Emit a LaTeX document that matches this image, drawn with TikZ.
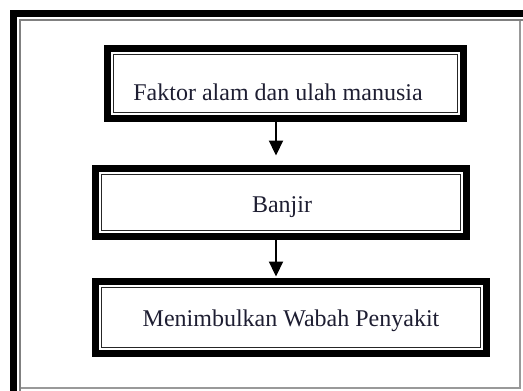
\documentclass[tikz,border=0pt]{standalone}
\usepackage{fontspec}
\setmainfont{Liberation Serif}
\usetikzlibrary{arrows.meta}
\definecolor{txtc}{RGB}{30,30,50}
\tikzset{
  boxnode/.style={draw=black, line width=7pt, fill=white, inner sep=0pt, outer sep=0pt},
  innerline/.style={draw=black!85, line width=1.3pt},
  txt/.style={text=txtc, inner sep=0pt, text height=16pt, text depth=0pt, font=\fontsize{24}{28}\selectfont},
  arr/.style={draw=black, line width=2.2pt, -{Triangle[width=14pt,length=15pt]}},
  framethick/.style={draw=black, line width=7pt},
  framethin/.style={draw=black!50, line width=1.5pt},
  framethinlight/.style={draw=black!40, line width=1.5pt}
}
\begin{document}
\begin{tikzpicture}[x=1pt,y=-1pt]
\useasboundingbox (0,0) rectangle (523,391);
% outer frame
\draw[framethinlight] (20,20) rectangle (520,388);
\draw[framethin] (20,391) -- (20,20) -- (523,20);
\draw[framethick] (13.5,391) -- (13.5,13.5) -- (523,13.5);
% boxes
\node[boxnode, minimum width=356pt, minimum height=70pt] (b1) at (285.5,83.5) {};
\node[boxnode, minimum width=371pt, minimum height=68pt] (b2) at (281,202.5) {};
\node[boxnode, minimum width=391pt, minimum height=72pt] (b3) at (291,317.5) {};
\foreach \b in {b1,b2,b3}{
  \draw[innerline] ([shift={(6.3pt,-6.3pt)}]\b.north west) rectangle ([shift={(-6.3pt,6.3pt)}]\b.south east);
}
% texts
\node[txt] (t1) at (278,92) {Faktor alam dan ulah manusia};
\node[txt] (t2) at (282,204) {Banjir};
\node[txt] (t3) at (291,318) {Menimbulkan Wabah Penyakit};
% arrows
\coordinate (ax) at (276,0);
\draw[arr, shorten >=13pt] (b1.south -| ax) -- (b2.north -| ax);
\draw[arr, shorten >=5pt] (b2.south -| ax) -- (b3.north -| ax);
\end{tikzpicture}
\end{document}
